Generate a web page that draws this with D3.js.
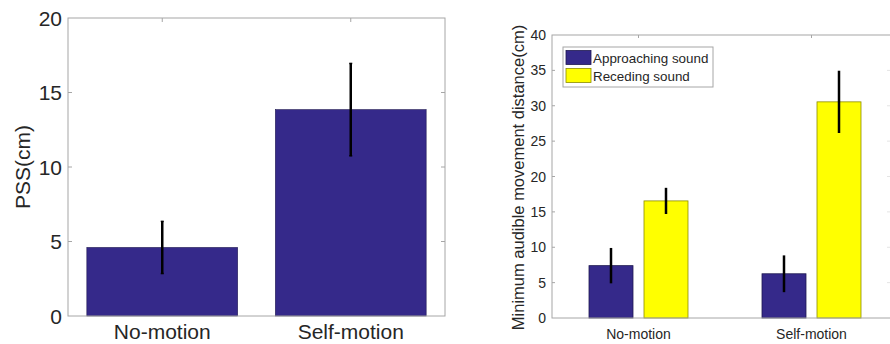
<!DOCTYPE html>
<html>
<head>
<meta charset="utf-8">
<script src="https://cdn.jsdelivr.net/npm/d3@7"></script>
<style>
  body { margin: 0; background: #fff; }
  svg { display: block; font-family: "Liberation Sans", Arial, sans-serif; }
</style>
</head>
<body>
<div id="chart"></div>
<script>
// Left panel: PSS
const pssCategories = ["No-motion", "Self-motion"];
const pssValues = [4.6, 13.85];
const pssErrors = [1.75, 3.1];
const pssTicks = [0, 5, 10, 15, 20];

// Right panel: minimum audible movement distance
const madCategories = ["No-motion", "Self-motion"];
const madSeries = ["Approaching sound", "Receding sound"];
const approachValues = [7.4, 6.25];
const approachErrors = [2.5, 2.6];
const recedeValues = [16.55, 30.55];
const recedeErrors = [1.85, 4.4];
const madTicks = [0, 5, 10, 15, 20, 25, 30, 35, 40];

const W = 890, H = 344;
const axisColor = "#a6a6a6";
const textColor = "#262626";
const blue = "#35298a";
const yellow = "#ffff00";

const svg = d3.select("#chart").append("svg")
  .attr("width", W).attr("height", H);

// ---------- left chart ----------
const L = { left: 68, right: 445, top: 18, bottom: 316 };
const x1 = d3.scaleBand().domain(pssCategories).range([L.left, L.right]).paddingInner(0.2).paddingOuter(0.1);
const y1 = d3.scaleLinear().domain([0, 20]).range([L.bottom, L.top]);

const g1 = svg.append("g");

g1.selectAll("rect.bar")
  .data(pssCategories)
  .join("rect")
  .attr("x", d => x1(d))
  .attr("y", (d, i) => y1(pssValues[i]))
  .attr("width", x1.bandwidth())
  .attr("height", (d, i) => y1(0) - y1(pssValues[i]))
  .attr("fill", blue)
  .attr("stroke", "#1e1850")
  .attr("stroke-width", 0.6);

// box
g1.append("rect")
  .attr("x", L.left).attr("y", L.top)
  .attr("width", L.right - L.left).attr("height", L.bottom - L.top)
  .attr("fill", "none").attr("stroke", axisColor).attr("stroke-width", 1);

// y ticks (inward, left and right)
g1.selectAll("line.yt")
  .data(pssTicks.slice(1, -1))
  .join("line")
  .attr("x1", L.left).attr("x2", L.left + 4)
  .attr("y1", d => y1(d)).attr("y2", d => y1(d))
  .attr("stroke", axisColor);
g1.selectAll("line.yt2")
  .data(pssTicks.slice(1, -1))
  .join("line")
  .attr("x1", L.right).attr("x2", L.right - 4)
  .attr("y1", d => y1(d)).attr("y2", d => y1(d))
  .attr("stroke", axisColor);
// top ticks
g1.selectAll("line.xt")
  .data(pssCategories)
  .join("line")
  .attr("x1", d => x1(d) + x1.bandwidth() / 2).attr("x2", d => x1(d) + x1.bandwidth() / 2)
  .attr("y1", L.top).attr("y2", L.top + 4)
  .attr("stroke", axisColor);

g1.selectAll("text.ytl")
  .data(pssTicks)
  .join("text")
  .attr("x", L.left - 6)
  .attr("y", d => y1(d))
  .attr("dy", "0.36em")
  .attr("text-anchor", "end")
  .attr("font-size", 21)
  .attr("fill", textColor)
  .text(d => d);

g1.selectAll("text.xtl")
  .data(pssCategories)
  .join("text")
  .attr("x", d => x1(d) + x1.bandwidth() / 2)
  .attr("y", L.bottom + 23)
  .attr("text-anchor", "middle")
  .attr("font-size", 21)
  .attr("fill", textColor)
  .text(d => d);

g1.append("text")
  .attr("transform", `translate(30, ${(L.top + L.bottom) / 2}) rotate(-90)`)
  .attr("text-anchor", "middle")
  .attr("font-size", 21)
  .attr("fill", textColor)
  .text("PSS(cm)");

// error bars
pssCategories.forEach((c, i) => {
  const cx = x1(c) + x1.bandwidth() / 2;
  g1.append("line")
    .attr("x1", cx).attr("x2", cx)
    .attr("y1", y1(pssValues[i] - pssErrors[i]))
    .attr("y2", y1(pssValues[i] + pssErrors[i]))
    .attr("stroke", "#000").attr("stroke-width", 2.5);
  [pssValues[i] - pssErrors[i], pssValues[i] + pssErrors[i]].forEach(v => {
    g1.append("line")
      .attr("x1", cx - 1.5).attr("x2", cx + 1.5)
      .attr("y1", y1(v)).attr("y2", y1(v))
      .attr("stroke", "#000").attr("stroke-width", 1.5);
  });
});

// ---------- right chart ----------
const R = { left: 552, right: 898, top: 35, bottom: 318 };
const x2 = d3.scaleBand().domain(madCategories).range([R.left, R.right]);
const xs = d3.scaleBand().domain(madSeries).range([-49.5, 49.5]).paddingInner(0.2).paddingOuter(0);
const y2 = d3.scaleLinear().domain([0, 40]).range([R.bottom, R.top]);

const g2 = svg.append("g");

const seriesData = [
  { name: madSeries[0], values: approachValues, errors: approachErrors, fill: blue, stroke: "#1e1850" },
  { name: madSeries[1], values: recedeValues, errors: recedeErrors, fill: yellow, stroke: "#8c8c00" }
];

seriesData.forEach(s => {
  g2.selectAll(null)
    .data(madCategories)
    .join("rect")
    .attr("x", d => x2(d) + x2.bandwidth() / 2 + xs(s.name))
    .attr("y", (d, i) => y2(s.values[i]))
    .attr("width", xs.bandwidth())
    .attr("height", (d, i) => y2(0) - y2(s.values[i]))
    .attr("fill", s.fill)
    .attr("stroke", s.stroke)
    .attr("stroke-width", 0.8);
});

g2.append("rect")
  .attr("x", R.left).attr("y", R.top)
  .attr("width", R.right - R.left).attr("height", R.bottom - R.top)
  .attr("fill", "none").attr("stroke", axisColor).attr("stroke-width", 1);

g2.selectAll("line.yt")
  .data(madTicks.slice(1, -1))
  .join("line")
  .attr("x1", R.left).attr("x2", R.left + 3)
  .attr("y1", d => y2(d)).attr("y2", d => y2(d))
  .attr("stroke", axisColor);
g2.selectAll("line.yt2")
  .data(madTicks.slice(1, -1))
  .join("line")
  .attr("x1", R.right).attr("x2", R.right - 11)
  .attr("y1", d => y2(d)).attr("y2", d => y2(d))
  .attr("stroke", "#e4e4e4");
g2.selectAll("line.xt")
  .data(madCategories)
  .join("line")
  .attr("x1", d => x2(d) + x2.bandwidth() / 2).attr("x2", d => x2(d) + x2.bandwidth() / 2)
  .attr("y1", R.top).attr("y2", R.top + 3)
  .attr("stroke", axisColor);

g2.selectAll("text.ytl")
  .data(madTicks)
  .join("text")
  .attr("x", R.left - 6)
  .attr("y", d => y2(d))
  .attr("dy", "0.36em")
  .attr("text-anchor", "end")
  .attr("font-size", 14)
  .attr("fill", textColor)
  .text(d => d);

g2.selectAll("text.xtl")
  .data(madCategories)
  .join("text")
  .attr("x", d => x2(d) + x2.bandwidth() / 2)
  .attr("y", R.bottom + 21)
  .attr("text-anchor", "middle")
  .attr("font-size", 14)
  .attr("fill", textColor)
  .text(d => d);

g2.append("text")
  .attr("transform", `translate(524, ${(R.top + R.bottom) / 2 + 1}) rotate(-90)`)
  .attr("text-anchor", "middle")
  .attr("font-size", 16.5)
  .attr("fill", textColor)
  .text("Minimum audible movement distance(cm)");

seriesData.forEach(s => {
  madCategories.forEach((c, i) => {
    const cx = x2(c) + x2.bandwidth() / 2 + xs(s.name) + xs.bandwidth() / 2;
    g2.append("line")
      .attr("x1", cx).attr("x2", cx)
      .attr("y1", y2(s.values[i] - s.errors[i]))
      .attr("y2", y2(s.values[i] + s.errors[i]))
      .attr("stroke", "#000").attr("stroke-width", 2.5);
  });
});

// legend
const lg = g2.append("g").attr("transform", "translate(563, 47)");
lg.append("rect")
  .attr("width", 150).attr("height", 40)
  .attr("fill", "#fff").attr("stroke", axisColor);
seriesData.forEach((s, i) => {
  lg.append("rect")
    .attr("x", 3).attr("y", 3.5 + i * 18)
    .attr("width", 25).attr("height", 14)
    .attr("fill", s.fill).attr("stroke", s.stroke).attr("stroke-width", 0.8);
  lg.append("text")
    .attr("x", 30).attr("y", 15.5 + i * 18)
    .attr("font-size", 13.4)
    .attr("fill", textColor)
    .text(s.name);
});
</script>
</body>
</html>
